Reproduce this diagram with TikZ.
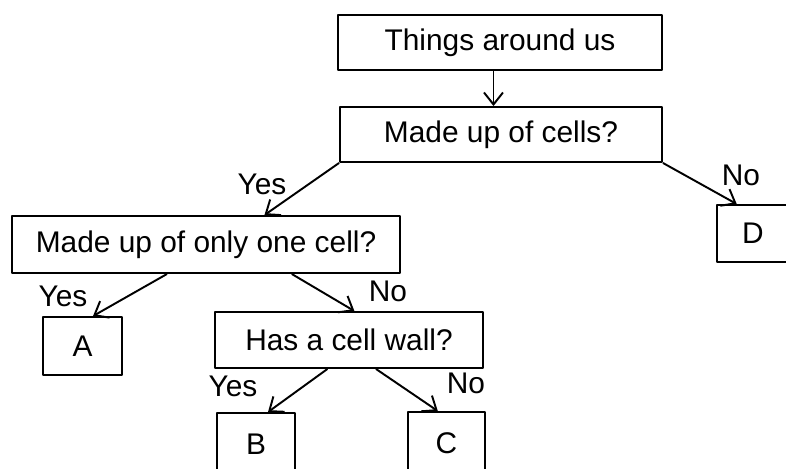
\documentclass[tikz,border=0pt]{standalone}
\usepackage{fontspec}
\setmainfont{Liberation Sans}
\usetikzlibrary{arrows.meta,calc}

\begin{document}
\begin{tikzpicture}[x=0.02cm, y=-0.02cm, font=\fontsize{17}{20}\selectfont, line width=1.1pt, line join=round, >={Straight Barb[length=2.4mm,width=3.8mm]}, box/.style={draw, inner sep=0pt}]
	\useasboundingbox (0,0) rectangle (786,468);
	\node[box, minimum width=6.48cm, minimum height=1.1cm] (things) at (500,42.5) {Things around us};
	\node[box, minimum width=6.44cm, minimum height=1.1cm] (cells) at (501,134.5) {Made up of cells?};
	\node[box, minimum width=7.76cm, minimum height=1.14cm] (one) at (206,244.5) {Made up of only one cell?};
	\node[box, minimum width=1.58cm, minimum height=1.16cm] (a) at (82.5,346) {A};
	\node[box, minimum width=5.36cm, minimum height=1.12cm] (wall) at (349,340) {Has a cell wall?};
	\node[box, minimum width=1.56cm, minimum height=1.24cm] (b) at (256,444) {B};
	\node[box, minimum width=1.54cm, minimum height=1.24cm] (c) at (446.5,443) {C};
	\node[box, minimum width=1.44cm, minimum height=1.14cm] (d) at (753,233.5) {D};
	\draw[->] ($(things.south west)!.48!(things.south east)$) coordinate (t) -- (t |- cells.north);
	\draw[->] (cells.south west) -- ($(one.north west)!.65!(one.north east)$);
	\draw[->] (cells.south east) -- ($(d.north west)!.28!(d.north east)$);
	\draw[->] ($(one.south west)!.4!(one.south east)$) -- ($(a.north west)!.63!(a.north east)$);
	\draw[->] ($(one.south west)!.72!(one.south east)$) -- ($(wall.north west)!.52!(wall.north east)$);
	\draw[->] ($(wall.south west)!.42!(wall.south east)$) -- ($(b.north west)!.65!(b.north east)$);
	\draw[->] ($(wall.south west)!.6!(wall.south east)$) -- ($(c.north west)!.39!(c.north east)$);
	\foreach \n/\x/\y/\t in {yescells/262/184/Yes, nocells/741/175/No, yesone/63/296/Yes, noone/388/291/No, yeswall/233/386/Yes, nowall/466/383/No}
	\node (\n) at (\x,\y) {\t};
\end{tikzpicture}
\end{document}
